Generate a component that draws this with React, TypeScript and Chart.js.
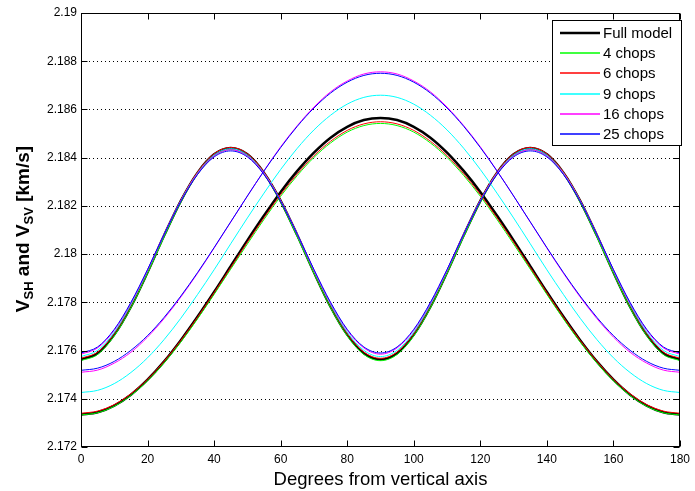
import React, { useEffect, useRef } from "react";
import { Chart, registerables } from "chart.js";

Chart.register(...registerables);

// Angle from vertical axis (degrees)
const X_DEG = [
  0, 5, 10, 15, 20, 25, 30, 35, 40, 45, 50, 55, 60, 65, 70, 75, 80, 85, 90,
  95, 100, 105, 110, 115, 120, 125, 130, 135, 140, 145, 150, 155, 160, 165, 170, 175, 180,
];

const X_TICKS = [0, 20, 40, 60, 80, 100, 120, 140, 160, 180];
const X_TICK_LABELS = ["0", "20", "40", "60", "80", "100", "120", "140", "160", "180"];
const Y_TICKS = [2.172, 2.174, 2.176, 2.178, 2.18, 2.182, 2.184, 2.186, 2.188, 2.19];
const Y_TICK_LABELS = ["2.172", "2.174", "2.176", "2.178", "2.18", "2.182", "2.184", "2.186", "2.188", "2.19"];

const SERIES_NAMES = ["Full model", "4 chops", "6 chops", "9 chops", "16 chops", "25 chops"];
const SERIES_COLORS = ["#000000", "#00ff00", "#ff0000", "#00ffff", "#ff00ff", "#0000ff"];

// VSH (single hump) and VSV (double hump) in km/s
const FULL_VSH = [
  2.17335, 2.17344, 2.17372, 2.17417, 2.17479, 2.17555, 2.17643, 2.1774, 2.17843, 2.1795,
  2.18057, 2.1816, 2.18258, 2.18345, 2.18421, 2.18483, 2.18528, 2.18556, 2.18565,
  2.18556, 2.18528, 2.18483, 2.18421, 2.18345, 2.18258, 2.1816, 2.18057, 2.1795,
  2.17843, 2.1774, 2.17643, 2.17555, 2.17479, 2.17417, 2.17372, 2.17344, 2.17335,
];
const FULL_VSV = [
  2.17563, 2.17589, 2.17666, 2.17782, 2.17925, 2.18078, 2.18221, 2.18337, 2.18414, 2.1844,
  2.18414, 2.18337, 2.18221, 2.18078, 2.17925, 2.17782, 2.17666, 2.17589, 2.17563,
  2.17589, 2.17666, 2.17782, 2.17925, 2.18078, 2.18221, 2.18337, 2.18414, 2.1844,
  2.18414, 2.18337, 2.18221, 2.18078, 2.17925, 2.17782, 2.17666, 2.17589, 2.17563,
];
const C4_VSH = [
  2.17333, 2.17342, 2.17369, 2.17414, 2.17474, 2.17549, 2.17635, 2.17731, 2.17833, 2.17938,
  2.18042, 2.18144, 2.1824, 2.18326, 2.18401, 2.18461, 2.18506, 2.18533, 2.18542,
  2.18533, 2.18506, 2.18461, 2.18401, 2.18326, 2.1824, 2.18144, 2.18042, 2.17938,
  2.17833, 2.17731, 2.17635, 2.17549, 2.17474, 2.17414, 2.17369, 2.17342, 2.17333,
];
const C4_VSV = [
  2.17558, 2.17584, 2.17661, 2.17777, 2.1792, 2.18072, 2.18215, 2.18332, 2.18408, 2.18434,
  2.18408, 2.18332, 2.18215, 2.18072, 2.1792, 2.17777, 2.17661, 2.17584, 2.17558,
  2.17584, 2.17661, 2.17777, 2.1792, 2.18072, 2.18215, 2.18332, 2.18408, 2.18434,
  2.18408, 2.18332, 2.18215, 2.18072, 2.1792, 2.17777, 2.17661, 2.17584, 2.17558,
];
const C6_VSH = [
  2.1734, 2.17349, 2.17376, 2.17421, 2.17481, 2.17556, 2.17642, 2.17738, 2.1784, 2.17945,
  2.1805, 2.18151, 2.18247, 2.18333, 2.18408, 2.18468, 2.18513, 2.1854, 2.18549,
  2.1854, 2.18513, 2.18468, 2.18408, 2.18333, 2.18247, 2.18151, 2.1805, 2.17945,
  2.1784, 2.17738, 2.17642, 2.17556, 2.17481, 2.17421, 2.17376, 2.17349, 2.1734,
];
const C6_VSV = [
  2.17568, 2.17594, 2.1767, 2.17787, 2.17929, 2.18081, 2.18224, 2.1834, 2.18416, 2.18442,
  2.18416, 2.1834, 2.18224, 2.18081, 2.17929, 2.17787, 2.1767, 2.17594, 2.17568,
  2.17594, 2.1767, 2.17787, 2.17929, 2.18081, 2.18224, 2.1834, 2.18416, 2.18442,
  2.18416, 2.1834, 2.18224, 2.18081, 2.17929, 2.17787, 2.1767, 2.17594, 2.17568,
];
const C9_VSH = [
  2.17426, 2.17435, 2.17463, 2.17509, 2.1757, 2.17646, 2.17734, 2.17832, 2.17935, 2.18043,
  2.1815, 2.18253, 2.18351, 2.18439, 2.18515, 2.18576, 2.18622, 2.1865, 2.18659,
  2.1865, 2.18622, 2.18576, 2.18515, 2.18439, 2.18351, 2.18253, 2.1815, 2.18043,
  2.17935, 2.17832, 2.17734, 2.17646, 2.1757, 2.17509, 2.17463, 2.17435, 2.17426,
];
const C9_VSV = [
  2.17575, 2.17601, 2.17676, 2.17791, 2.17931, 2.18081, 2.18222, 2.18336, 2.18411, 2.18437,
  2.18411, 2.18336, 2.18222, 2.18081, 2.17931, 2.17791, 2.17676, 2.17601, 2.17575,
  2.17601, 2.17676, 2.17791, 2.17931, 2.18081, 2.18222, 2.18336, 2.18411, 2.18437,
  2.18411, 2.18336, 2.18222, 2.18081, 2.17931, 2.17791, 2.17676, 2.17601, 2.17575,
];
const C16_VSH = [
  2.1751, 2.17519, 2.17548, 2.17593, 2.17656, 2.17733, 2.17822, 2.1792, 2.18025, 2.18133,
  2.18241, 2.18346, 2.18445, 2.18533, 2.1861, 2.18673, 2.18718, 2.18747, 2.18756,
  2.18747, 2.18718, 2.18673, 2.1861, 2.18533, 2.18445, 2.18346, 2.18241, 2.18133,
  2.18025, 2.1792, 2.17822, 2.17733, 2.17656, 2.17593, 2.17548, 2.17519, 2.1751,
];
const C16_VSV = [
  2.17585, 2.17611, 2.17684, 2.17797, 2.17935, 2.18083, 2.18221, 2.18334, 2.18407, 2.18433,
  2.18407, 2.18334, 2.18221, 2.18083, 2.17935, 2.17797, 2.17684, 2.17611, 2.17585,
  2.17611, 2.17684, 2.17797, 2.17935, 2.18083, 2.18221, 2.18334, 2.18407, 2.18433,
  2.18407, 2.18334, 2.18221, 2.18083, 2.17935, 2.17797, 2.17684, 2.17611, 2.17585,
];
const C25_VSH = [
  2.17518, 2.17527, 2.17555, 2.17601, 2.17662, 2.17738, 2.17826, 2.17923, 2.18027, 2.18134,
  2.18241, 2.18345, 2.18442, 2.1853, 2.18606, 2.18668, 2.18713, 2.18741, 2.1875,
  2.18741, 2.18713, 2.18668, 2.18606, 2.1853, 2.18442, 2.18345, 2.18241, 2.18134,
  2.18027, 2.17923, 2.17826, 2.17738, 2.17662, 2.17601, 2.17555, 2.17527, 2.17518,
];
const C25_VSV = [
  2.1759, 2.17615, 2.17688, 2.178, 2.17936, 2.18082, 2.18219, 2.1833, 2.18403, 2.18428,
  2.18403, 2.1833, 2.18219, 2.18082, 2.17936, 2.178, 2.17688, 2.17615, 2.1759,
  2.17615, 2.17688, 2.178, 2.17936, 2.18082, 2.18219, 2.1833, 2.18403, 2.18428,
  2.18403, 2.1833, 2.18219, 2.18082, 2.17936, 2.178, 2.17688, 2.17615, 2.1759,
];

const SERIES_VALUES = [
  [FULL_VSH, FULL_VSV],
  [C4_VSH, C4_VSV],
  [C6_VSH, C6_VSV],
  [C9_VSH, C9_VSV],
  [C16_VSH, C16_VSV],
  [C25_VSH, C25_VSV],
];

const FONT = "Arial, 'Liberation Sans', Helvetica, sans-serif";

const decorPlugin = {
  id: "decor",
  beforeDatasetsDraw(chart: any) {
    const { ctx, chartArea } = chart;
    const ys = chart.scales.y;
    ctx.save();
    ctx.strokeStyle = "#000";
    ctx.lineWidth = 1;
    ctx.setLineDash([1, 3]);
    Y_TICKS.forEach((v, i) => {
      if (i === 0 || i === Y_TICKS.length - 1) return;
      const y = Math.round(ys.getPixelForValue(v)) + 0.5;
      ctx.beginPath();
      ctx.moveTo(chartArea.left, y);
      ctx.lineTo(chartArea.right, y);
      ctx.stroke();
    });
    ctx.restore();
  },
  afterDatasetsDraw(chart: any) {
    const { ctx, chartArea } = chart;
    const xs = chart.scales.x;
    const ys = chart.scales.y;
    const L = Math.round(chartArea.left) + 0.5;
    const R = Math.round(chartArea.right) - 0.5;
    const T = Math.round(chartArea.top) + 0.5;
    const B = Math.round(chartArea.bottom) - 0.5;
    ctx.save();
    ctx.strokeStyle = "#000";
    ctx.lineWidth = 1;
    ctx.setLineDash([]);
    ctx.strokeRect(L, T, R - L, B - T);
    const tl = 6;
    ctx.beginPath();
    X_TICKS.forEach((v) => {
      const x = Math.round(xs.getPixelForValue(v)) + 0.5;
      ctx.moveTo(x, B);
      ctx.lineTo(x, B - tl);
      ctx.moveTo(x, T);
      ctx.lineTo(x, T + tl);
    });
    Y_TICKS.forEach((v) => {
      const y = Math.round(ys.getPixelForValue(v)) + 0.5;
      ctx.moveTo(L, y);
      ctx.lineTo(L + tl, y);
      ctx.moveTo(R, y);
      ctx.lineTo(R - tl, y);
    });
    ctx.stroke();

    // Legend
    const lx0 = 552.5, ly0 = 20.5, lx1 = 681.5, ly1 = 145.5;
    ctx.fillStyle = "#fff";
    ctx.fillRect(lx0, ly0, lx1 - lx0, ly1 - ly0);
    ctx.strokeStyle = "#000";
    ctx.lineWidth = 1;
    ctx.strokeRect(lx0, ly0, lx1 - lx0, ly1 - ly0);
    ctx.font = `15px ${FONT}`;
    ctx.textBaseline = "middle";
    ctx.textAlign = "left";
    SERIES_NAMES.forEach((name, i) => {
      const y = Math.round(33 + i * 20.2);
      ctx.strokeStyle = SERIES_COLORS[i];
      ctx.lineWidth = i === 0 ? 2.5 : 1.6;
      ctx.beginPath();
      ctx.moveTo(560, y);
      ctx.lineTo(600, y);
      ctx.stroke();
      ctx.fillStyle = "#000";
      ctx.fillText(name, 603, y + 1);
    });

    // X title
    ctx.fillStyle = "#000";
    ctx.font = `18.5px ${FONT}`;
    ctx.textAlign = "center";
    ctx.textBaseline = "middle";
    ctx.fillText("Degrees from vertical axis", (chartArea.left + chartArea.right) / 2, 480);

    // Y title with subscripts
    const parts = [
      { t: "V", sub: false },
      { t: "SH", sub: true },
      { t: " and V", sub: false },
      { t: "SV", sub: true },
      { t: " [km/s]", sub: false },
    ];
    const mainFont = `bold 19px ${FONT}`;
    const subFont = `bold 13px ${FONT}`;
    let total = 0;
    const widths = parts.map((p) => {
      ctx.font = p.sub ? subFont : mainFont;
      const w = ctx.measureText(p.t).width;
      total += w;
      return w;
    });
    ctx.translate(22, (chartArea.top + chartArea.bottom) / 2 - 1);
    ctx.rotate(-Math.PI / 2);
    ctx.textAlign = "left";
    ctx.textBaseline = "alphabetic";
    let cx = -total / 2;
    parts.forEach((p, i) => {
      ctx.font = p.sub ? subFont : mainFont;
      ctx.fillText(p.t, cx, p.sub ? 11 : 7);
      cx += widths[i];
    });
    ctx.restore();
  },
};

export default function App() {
  const ref = useRef<HTMLCanvasElement | null>(null);
  useEffect(() => {
    if (!ref.current) return;
    const datasets: any[] = [];
    // Later models are pushed first so that the full model is drawn underneath
    for (let si = SERIES_VALUES.length - 1; si >= 0; si--) {
      SERIES_VALUES[si].forEach((vals) => {
        datasets.push({
          label: SERIES_NAMES[si],
          data: X_DEG.map((x, i) => ({ x, y: vals[i] })),
          borderColor: SERIES_COLORS[si],
          backgroundColor: SERIES_COLORS[si],
          borderWidth: si === 0 ? 2.5 : 1,
          pointRadius: 0,
          fill: false,
          cubicInterpolationMode: "monotone",
        });
      });
    }
    const chart = new Chart(ref.current, {
      type: "line",
      data: { datasets },
      options: {
        animation: false,
        responsive: false,
        events: [],
        layout: { padding: { top: 13, right: 10, left: 0, bottom: 0 } },
        plugins: { legend: { display: false }, tooltip: { enabled: false } },
        scales: {
          x: {
            type: "linear",
            min: 0,
            max: 180,
            grid: { display: false, drawTicks: false },
            border: { display: false },
            afterBuildTicks: (s: any) => {
              s.ticks = X_TICKS.map((v) => ({ value: v }));
            },
            afterFit: (s: any) => {
              s.height = 44;
            },
            ticks: {
              autoSkip: false,
              maxRotation: 0,
              padding: 5,
              color: "#000",
              font: { family: FONT, size: 12 },
              callback: (_v: any, i: number) => X_TICK_LABELS[i],
            },
          },
          y: {
            type: "linear",
            min: 2.172,
            max: 2.19,
            grid: { display: false, drawTicks: false },
            border: { display: false },
            afterBuildTicks: (s: any) => {
              s.ticks = Y_TICKS.map((v) => ({ value: v }));
            },
            afterFit: (s: any) => {
              s.width = 81;
            },
            ticks: {
              autoSkip: false,
              padding: 4,
              color: "#000",
              font: { family: FONT, size: 12 },
              callback: (_v: any, i: number) => Y_TICK_LABELS[i],
            },
          },
        },
      },
      plugins: [decorPlugin],
    });
    return () => chart.destroy();
  }, []);
  return (
    <div style={{ position: "fixed", left: 0, top: 0, width: 695, height: 491, background: "#fff" }}>
      <canvas ref={ref} width={695} height={491} style={{ display: "block" }} />
    </div>
  );
}
